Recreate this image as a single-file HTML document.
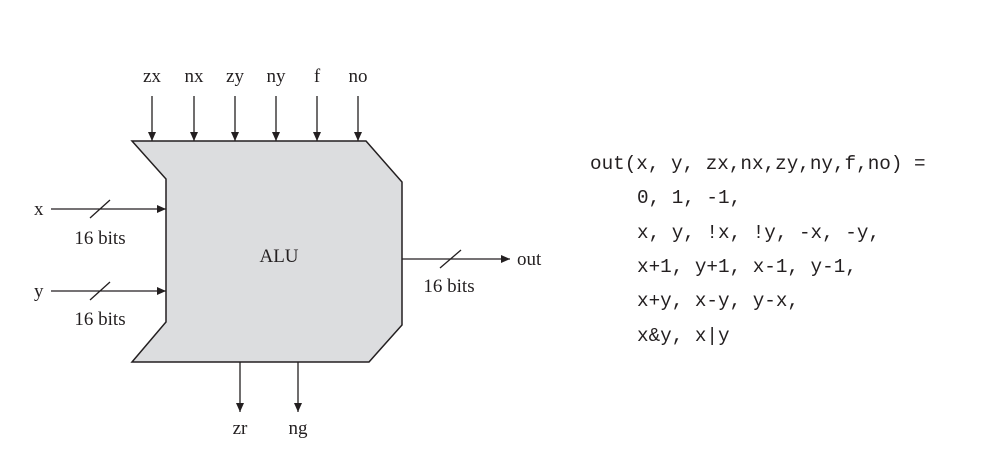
<!DOCTYPE html>
<html><head><meta charset="utf-8"><style>
html,body{margin:0;padding:0;background:#fff;}
</style></head><body>
<svg width="990" height="458" viewBox="0 0 990 458" xmlns="http://www.w3.org/2000/svg">
<defs>
<marker id="a" markerWidth="10" markerHeight="10" refX="9" refY="5" orient="auto" markerUnits="userSpaceOnUse">
<path d="M0,1 L9,5 L0,9 z" fill="#231f20"/></marker>
</defs>
<g font-family="Liberation Serif, serif" font-size="19" fill="#231f20">
<polygon points="132,141 366,141 402,182 402,325 369,362 132,362 166,322 166,179" fill="#dcdddf" stroke="#231f20" stroke-width="1.5"/>
<g stroke="#231f20" stroke-width="1.3" fill="none" marker-end="url(#a)">
<line x1="152" y1="96" x2="152" y2="141"/>
<line x1="194" y1="96" x2="194" y2="141"/>
<line x1="235" y1="96" x2="235" y2="141"/>
<line x1="276" y1="96" x2="276" y2="141"/>
<line x1="317" y1="96" x2="317" y2="141"/>
<line x1="358" y1="96" x2="358" y2="141"/>
<line x1="51" y1="209" x2="166" y2="209"/>
<line x1="51" y1="291" x2="166" y2="291"/>
<line x1="402" y1="259" x2="510" y2="259"/>
<line x1="240" y1="362" x2="240" y2="412"/>
<line x1="298" y1="362" x2="298" y2="412"/>
</g>
<g stroke="#231f20" stroke-width="1.3">
<line x1="90" y1="218" x2="110" y2="200"/>
<line x1="90" y1="300" x2="110" y2="282"/>
<line x1="440" y1="268" x2="461" y2="250"/>
</g>
<g text-anchor="middle">
<text x="152" y="82">zx</text>
<text x="194" y="82">nx</text>
<text x="235" y="82">zy</text>
<text x="276" y="82">ny</text>
<text x="317" y="82">f</text>
<text x="358" y="82">no</text>
<text x="100" y="244">16 bits</text>
<text x="100" y="325">16 bits</text>
<text x="449" y="292">16 bits</text>
<text x="279" y="262">ALU</text>
<text x="240" y="434">zr</text>
<text x="298" y="434">ng</text>
</g>
<text x="34" y="215">x</text>
<text x="34" y="297">y</text>
<text x="517" y="265">out</text>
</g>
<g font-family="Liberation Mono, monospace" font-size="19.3" fill="#231f20" xml:space="preserve">
<text x="590" y="169">out(x, y, zx,nx,zy,ny,f,no) =</text>
<text x="637" y="203">0, 1, -1,</text>
<text x="637" y="238">x, y, !x, !y, -x, -y,</text>
<text x="637" y="272">x+1, y+1, x-1, y-1,</text>
<text x="637" y="306">x+y, x-y, y-x,</text>
<text x="637" y="341">x&amp;y, x|y</text>
</g>
</svg>
</body></html>
